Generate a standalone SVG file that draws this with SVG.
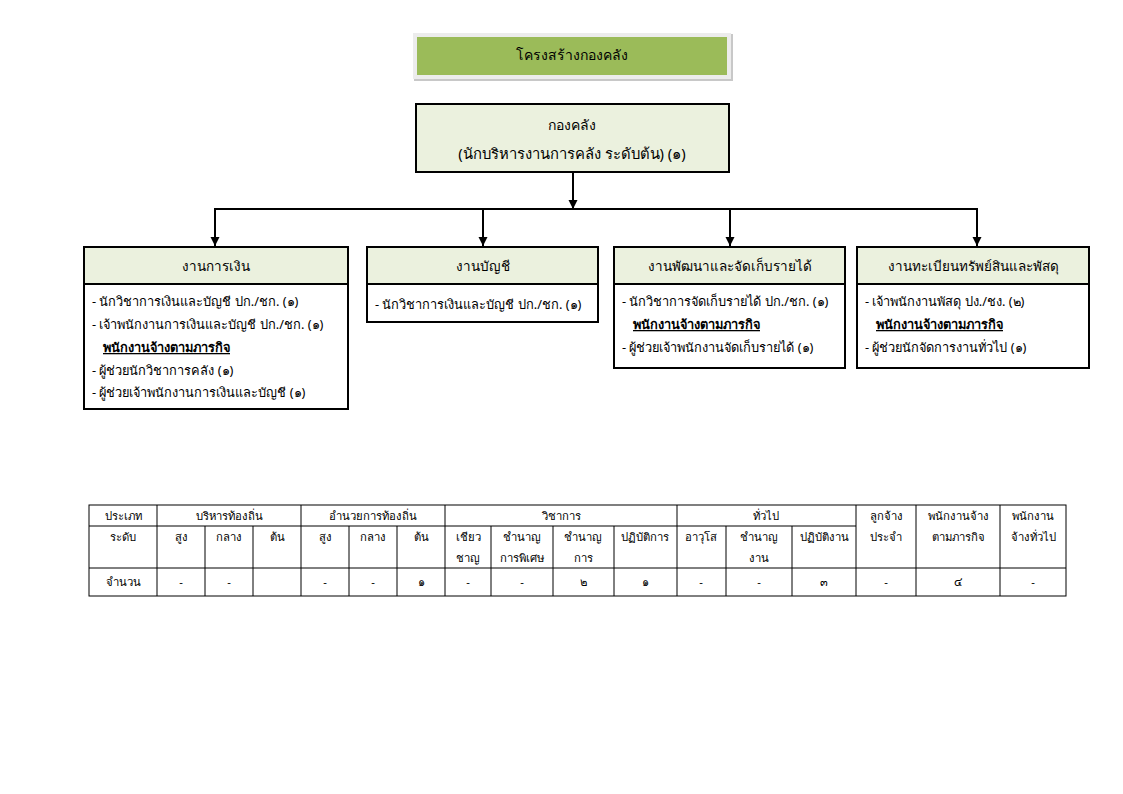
<svg xmlns="http://www.w3.org/2000/svg" width="1123" height="794" viewBox="0 0 1123 794">
<defs>
<marker id="arr" markerWidth="10" markerHeight="10" refX="9" refY="5" orient="auto" markerUnits="userSpaceOnUse">
<path d="M0,0.5 L9,5 L0,9.5 Z" fill="#000"/>
</marker>
<style>
text{font-family:"Noto Sans","DejaVu Sans",sans-serif;fill:#000}
.hd{font-size:13.5px;text-anchor:middle}
.bd{font-size:12.8px}
.ul{font-size:12.8px;font-weight:bold;text-decoration:underline}
.box{fill:#fff;stroke:#000;stroke-width:2}
.hbox{fill:#EBF1DE;stroke:#000;stroke-width:2}
.con{fill:none;stroke:#000;stroke-width:2}
.tb{fill:none;stroke:#000;stroke-width:1}
.tt{font-size:11.3px;text-anchor:middle}
</style>
</defs>
<rect width="1123" height="794" fill="#fff"/>
<g id="title">
<rect x="414" y="34" width="319" height="47" fill="#c8c8c8"/>
<rect x="413" y="33" width="318" height="46" fill="#ececec"/>
<rect x="417" y="37" width="310" height="38" fill="#9BBB59"/>
<text x="572" y="60" class="hd" style="font-size:14px">โครงสร้างกองคลัง</text>
</g>
<g id="top">
<rect x="416" y="104" width="313" height="68" class="hbox"/>
<text x="572" y="130" class="hd" style="font-size:14px">กองคลัง</text>
<text x="572" y="159" class="hd" style="font-size:14.8px">(นักบริหารงานการคลัง ระดับต้น) (๑)</text>
</g>
<g id="connectors">
<line x1="573" y1="172" x2="573" y2="209" class="con" marker-end="url(#arr)"/>
<polyline points="215,246 215,209 977,209 977,246" class="con" marker-end="url(#arr)"/>
<line x1="215" y1="209" x2="215" y2="246" class="con" marker-end="url(#arr)"/>
<line x1="483" y1="209" x2="483" y2="246" class="con" marker-end="url(#arr)"/>
<line x1="730" y1="209" x2="730" y2="246" class="con" marker-end="url(#arr)"/>
</g>
<g id="finance">
<rect x="84" y="247" width="264" height="162" class="box"/>
<rect x="84" y="247" width="264" height="37" class="hbox"/>
<text x="216" y="271" class="hd">งานการเงิน</text>
<text x="92" y="306" class="bd">- นักวิชาการเงินและบัญชี ปก./ชก. (๑)</text>
<text x="92" y="329" class="bd">- เจ้าพนักงานการเงินและบัญชี ปก./ชก. (๑)</text>
<text x="103" y="352" class="ul">พนักงานจ้างตามภารกิจ</text>
<text x="92" y="375" class="bd">- ผู้ช่วยนักวิชาการคลัง (๑)</text>
<text x="92" y="397" class="bd">- ผู้ช่วยเจ้าพนักงานการเงินและบัญชี (๑)</text>
</g>
<g id="accounting">
<rect x="367" y="247" width="231" height="75" class="box"/>
<rect x="367" y="247" width="231" height="37" class="hbox"/>
<text x="483" y="271" class="hd">งานบัญชี</text>
<text x="375" y="309" class="bd">- นักวิชาการเงินและบัญชี ปก./ชก. (๑)</text>
</g>
<g id="revenue">
<rect x="614" y="247" width="231" height="121" class="box"/>
<rect x="614" y="247" width="231" height="37" class="hbox"/>
<text x="730" y="271" class="hd">งานพัฒนาและจัดเก็บรายได้</text>
<text x="622" y="306" class="bd">- นักวิชาการจัดเก็บรายได้ ปก./ชก. (๑)</text>
<text x="633" y="329" class="ul">พนักงานจ้างตามภารกิจ</text>
<text x="622" y="352" class="bd">- ผู้ช่วยเจ้าพนักงานจัดเก็บรายได้ (๑)</text>
</g>
<g id="assets">
<rect x="857" y="247" width="232" height="121" class="box"/>
<rect x="857" y="247" width="232" height="37" class="hbox"/>
<text x="973" y="271" class="hd">งานทะเบียนทรัพย์สินและพัสดุ</text>
<text x="865" y="306" class="bd">- เจ้าพนักงานพัสดุ ปง./ชง. (๒)</text>
<text x="876" y="329" class="ul">พนักงานจ้างตามภารกิจ</text>
<text x="865" y="352" class="bd">- ผู้ช่วยนักจัดการงานทั่วไป (๑)</text>
</g>
<g id="table">
<rect x="89" y="505" width="977" height="91" class="tb"/>
<line x1="89" y1="526" x2="856" y2="526" class="tb"/>
<line x1="89" y1="568" x2="1066" y2="568" class="tb"/>
<g class="tb">
<line x1="157" y1="505" x2="157" y2="596"/>
<line x1="301" y1="505" x2="301" y2="596"/>
<line x1="445" y1="505" x2="445" y2="596"/>
<line x1="677" y1="505" x2="677" y2="596"/>
<line x1="856" y1="505" x2="856" y2="596"/>
<line x1="916" y1="505" x2="916" y2="596"/>
<line x1="1000" y1="505" x2="1000" y2="596"/>
<line x1="205" y1="526" x2="205" y2="596"/>
<line x1="253" y1="526" x2="253" y2="596"/>
<line x1="349" y1="526" x2="349" y2="596"/>
<line x1="397" y1="526" x2="397" y2="596"/>
<line x1="491" y1="526" x2="491" y2="596"/>
<line x1="553" y1="526" x2="553" y2="596"/>
<line x1="614" y1="526" x2="614" y2="596"/>
<line x1="726" y1="526" x2="726" y2="596"/>
<line x1="792" y1="526" x2="792" y2="596"/>
</g>
<text x="123" y="520" class="tt">ประเภท</text>
<text x="229" y="520" class="tt">บริหารท้องถิ่น</text>
<text x="373" y="520" class="tt">อำนวยการท้องถิ่น</text>
<text x="561" y="520" class="tt">วิชาการ</text>
<text x="766" y="520" class="tt">ทั่วไป</text>
<text x="886" y="520" class="tt">ลูกจ้าง</text>
<text x="886" y="541" class="tt">ประจำ</text>
<text x="958" y="520" class="tt">พนักงานจ้าง</text>
<text x="958" y="541" class="tt">ตามภารกิจ</text>
<text x="1033" y="520" class="tt">พนักงาน</text>
<text x="1033" y="541" class="tt">จ้างทั่วไป</text>
<text x="123" y="541" class="tt">ระดับ</text>
<text x="181" y="541" class="tt">สูง</text>
<text x="229" y="541" class="tt">กลาง</text>
<text x="277" y="541" class="tt">ต้น</text>
<text x="325" y="541" class="tt">สูง</text>
<text x="373" y="541" class="tt">กลาง</text>
<text x="421" y="541" class="tt">ต้น</text>
<text x="468" y="541" class="tt">เชียว</text>
<text x="468" y="562" class="tt">ชาญ</text>
<text x="522" y="541" class="tt">ชำนาญ</text>
<text x="522" y="562" class="tt">การพิเศษ</text>
<text x="583" y="541" class="tt">ชำนาญ</text>
<text x="583" y="562" class="tt">การ</text>
<text x="645" y="541" class="tt">ปฏิบัติการ</text>
<text x="701" y="541" class="tt">อาวุโส</text>
<text x="759" y="541" class="tt">ชำนาญ</text>
<text x="759" y="562" class="tt">งาน</text>
<text x="824" y="541" class="tt">ปฏิบัติงาน</text>
<text x="123" y="586" class="tt">จำนวน</text>
<text x="181" y="586" class="tt">-</text>
<text x="229" y="586" class="tt">-</text>
<text x="325" y="586" class="tt">-</text>
<text x="373" y="586" class="tt">-</text>
<text x="421" y="586" class="tt">๑</text>
<text x="468" y="586" class="tt">-</text>
<text x="522" y="586" class="tt">-</text>
<text x="583" y="586" class="tt">๒</text>
<text x="645" y="586" class="tt">๑</text>
<text x="701" y="586" class="tt">-</text>
<text x="759" y="586" class="tt">-</text>
<text x="824" y="586" class="tt">๓</text>
<text x="886" y="586" class="tt">-</text>
<text x="958" y="586" class="tt">๔</text>
<text x="1033" y="586" class="tt">-</text>
</g>
</svg>
